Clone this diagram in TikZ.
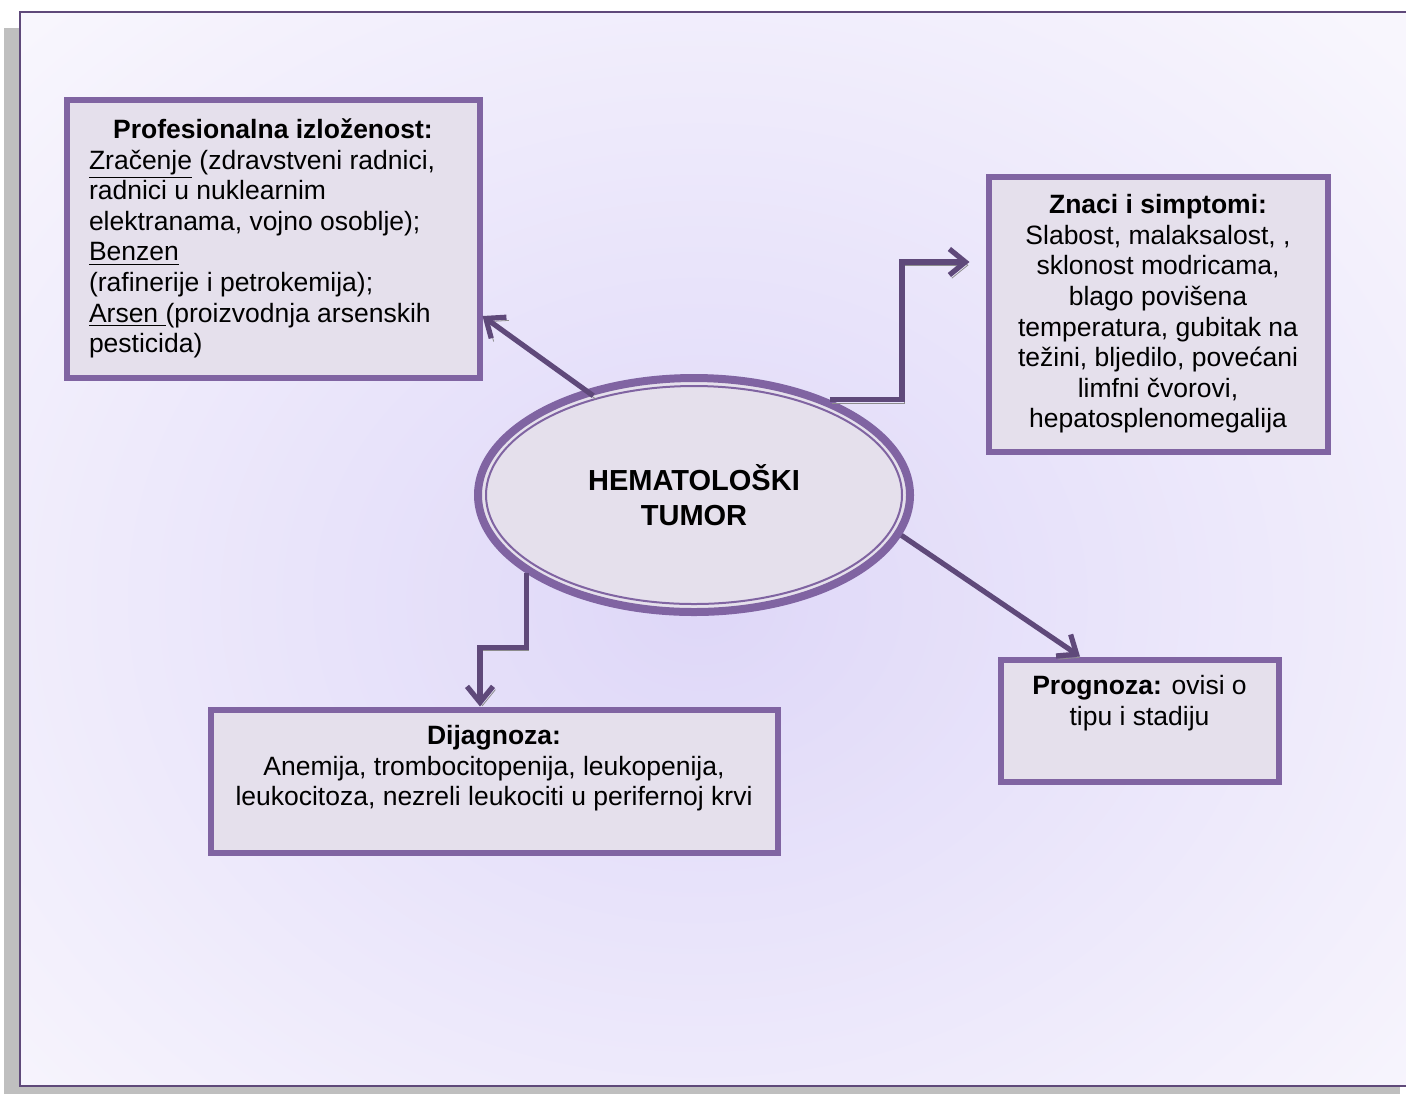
\documentclass[tikz,border=0pt]{standalone}
\usepackage{fontspec}
\setmainfont{Liberation Sans}
\usetikzlibrary{shapes.geometric,arrows.meta}

\definecolor{boxline}{HTML}{8064A2}
\definecolor{boxfill}{HTML}{E5E0EC}
\definecolor{arrowcol}{HTML}{5F497A}
\definecolor{shadowgray}{HTML}{8C8C8C}
\definecolor{pagegray}{HTML}{BFBFBF}
\definecolor{bgcol}{HTML}{F8F6FD}
\definecolor{glowcol}{HTML}{DED7F8}

\newcommand{\boxfont}{\fontsize{13.25}{15.3}\selectfont}

\begin{document}
\begin{tikzpicture}[x=0.5pt, y=-0.5pt,
    box/.style={draw=boxline, line width=3pt, fill=boxfill, inner sep=0pt, font=\boxfont},
    hemabox/.style={ellipse, draw=boxline, line width=4pt, fill=boxfill,
        minimum width=216pt, minimum height=117pt, align=center,
        font=\fontsize{14.5}{17.5}\selectfont\bfseries},
    conn/.style={draw=arrowcol, line width=2.6pt, -{Straight Barb[length=8pt, width=13pt]},
        preaction={draw=shadowgray, transform canvas={shift={(1.2pt,-1.6pt)}}}}]

    % Page
    \useasboundingbox (0,0) rectangle (1406,1094);
    \clip (0,0) rectangle (1406,1094);
    \fill[pagegray] (4,28) rectangle (1400,1094);
    \fill[bgcol] (20,12) rectangle (1412,1086);
    \begin{scope}
        \clip (20,12) rectangle (1412,1086);
        \shade[inner color=glowcol, outer color=bgcol] (700,600) ellipse [x radius=480pt, y radius=400pt];
    \end{scope}
    \draw[arrowcol, line width=1pt] (20,12) rectangle (1412,1086);

    % Centre
    \node[hemabox] (hema) at (694,495) {HEMATOLOŠKI\\TUMOR};
    \draw[boxline, line width=1pt] (hema.center) ellipse [x radius=104pt, y radius=54.5pt];

    % Boxes
    \node[box, minimum width=206.5pt, minimum height=139pt] (prof) at (273,238.5)
        {\parbox{184pt}{\centering\textbf{Profesionalna izloženost:}\par\raggedright
        \underline{Zračenje} (zdravstveni radnici,\\
        radnici u nuklearnim\\
        elektranama, vojno osoblje);\\
        \underline{Benzen}\\
        (rafinerije i petrokemija);\\
        \underline{Arsen\ }(proizvodnja arsenskih\\
        pesticida)}};
    \node[box, minimum width=169.5pt, minimum height=137.5pt] (znaci) at (1158,314)
        {\parbox{160pt}{\centering\textbf{Znaci i simptomi:}\\
        Slabost, malaksalost, ,\\
        sklonost modricama,\\
        blago povišena\\
        temperatura, gubitak na\\
        težini, bljedilo, povećani\\
        limfni čvorovi,\\
        hepatosplenomegalija}};
    \node[box, inner sep=8pt] (progn) at (1139.5,720.5)
        {\parbox[c][45pt][t]{123pt}{\centering\textbf{Prognoza:} ovisi o\\
        tipu i stadiju}};
    \node[box, inner sep=8pt] (dijag) at (494,781)
        {\parbox[c][55.5pt][t]{267.5pt}{\centering\textbf{Dijagnoza:}\\
        Anemija, trombocitopenija, leukopenija,\\
        leukocitoza, nezreli leukociti u perifernoj krvi}};

    % Arrows
    \draw[conn, shorten <=-5pt] (hema.136) -- ([yshift=-38.75pt]prof.east);
    \draw[conn] (hema.35) -- ++(72,0) |- ([xshift=-8pt, yshift=26pt]znaci.west);
    \draw[conn] (hema.-155) -- ++(0,74) -| ([xshift=-7pt]dijag.north);
    \draw[conn] (hema.-11) -- ([xshift=-29.75pt]progn.north);

\end{tikzpicture}
\end{document}
